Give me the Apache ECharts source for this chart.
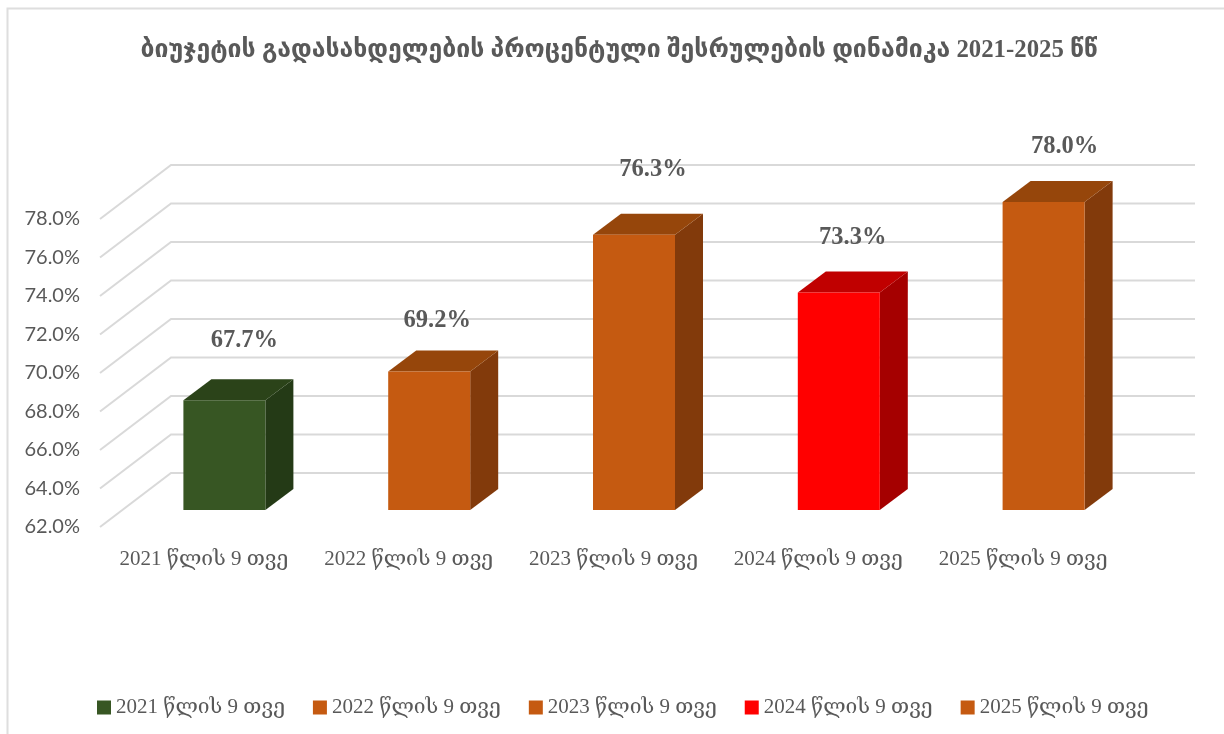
<!DOCTYPE html>
<html>
<head>
<meta charset="utf-8">
<title>chart</title>
<script src="https://cdn.jsdelivr.net/npm/echarts@6/dist/echarts.min.js"></script>
<style>
  html, body { margin: 0; padding: 0; background: #fff; }
  #chart { width: 1224px; height: 734px; }
</style>
</head>
<body>
<div id="chart"></div>
<script>
const titleText = "ბიუჯეტის გადასახდელების პროცენტული შესრულების დინამიკა 2021-2025 წწ";
const categories = ["2021 წლის 9 თვე", "2022 წლის 9 თვე", "2023 წლის 9 თვე", "2024 წლის 9 თვე", "2025 წლის 9 თვე"];
const values = [67.7, 69.2, 76.3, 73.3, 78.0];
const yTicks = [62, 64, 66, 68, 70, 72, 74, 76, 78];

// face, top, side
const barColors = [
  ["#375623", "#2b4319", "#243a16"],
  ["#c55a11", "#96460b", "#823a0b"],
  ["#c55a11", "#96460b", "#823a0b"],
  ["#ff0000", "#c00000", "#a50000"],
  ["#c55a11", "#96460b", "#823a0b"]
];

// excel style 3d: wall sits behind the front plane, bars in the middle
const wallDx = 71, wallDy = -54;
const barDx = 22, barDy = -17;
const depthDx = 28, depthDy = -21;
const barWidth = 82;
// hand placed data labels in the original
const labelNudge = [[20, -60], [8, -51], [19, -65], [14, -55], [21, -55]];

const serifFont = "'Liberation Serif','DejaVu Serif',serif";
const sansFont = "Lato,'DejaVu Sans',sans-serif";

function renderGrid(params, api) {
  const cs = params.coordSys;
  const y = api.coord([0, api.value(0)])[1];
  return {
    type: "polyline",
    shape: { points: [[cs.x, y], [cs.x + wallDx, y + wallDy], [cs.x + cs.width + wallDx, y + wallDy]] },
    style: { fill: null, stroke: "#d9d9d9", lineWidth: 2 },
    silent: true
  };
}

function renderBar(i) {
  return function (params, api) {
    const top = api.coord([i, api.value(1)]);
    const base = api.coord([i, yTicks[0]]);
    const xl = top[0] - barWidth / 2 + barDx;
    const xr = xl + barWidth;
    const yt = top[1] + barDy;
    const yb = base[1] + barDy;
    const c = barColors[i];
    return {
      type: "group",
      children: [
        { type: "polygon", shape: { points: [[xr, yt], [xr + depthDx, yt + depthDy], [xr + depthDx, yb + depthDy], [xr, yb]] }, style: { fill: c[2] } },
        { type: "polygon", shape: { points: [[xl, yt], [xl + depthDx, yt + depthDy], [xr + depthDx, yt + depthDy], [xr, yt]] }, style: { fill: c[1] } },
        { type: "rect", shape: { x: xl, y: yt, width: barWidth, height: yb - yt }, style: { fill: c[0] } },
        {
          type: "text",
          x: top[0] + barDx + labelNudge[i][0],
          y: yt + labelNudge[i][1],
          style: {
            text: api.value(1).toFixed(1) + "%",
            align: "center",
            verticalAlign: "middle",
            fontFamily: "'Liberation Serif',serif",
            fontWeight: "bold",
            fontSize: 24.5,
            fill: "#595959"
          }
        }
      ]
    };
  };
}

const series = [{
  type: "custom",
  name: "grid",
  coordinateSystem: "cartesian2d",
  renderItem: renderGrid,
  encode: { y: 0 },
  data: yTicks.map(function (t) { return [t]; }),
  z: 1
}];
categories.forEach(function (name, i) {
  series.push({
    type: "custom",
    name: name,
    coordinateSystem: "cartesian2d",
    renderItem: renderBar(i),
    encode: { x: 0, y: 1 },
    data: [[i, values[i]]],
    itemStyle: { color: barColors[i][0] },
    z: 2
  });
});

const myChart = echarts.init(document.getElementById("chart"), null, { renderer: "canvas" });
myChart.setOption({
  animation: false,
  backgroundColor: "#fff",
  title: {
    text: titleText,
    left: 614,
    top: 33,
    textAlign: "center",
    textStyle: { fontFamily: "'Liberation Serif','DejaVu Sans',sans-serif", fontSize: 24.8, fontWeight: "bold", color: "#595959" }
  },
  grid: { left: 100, top: 219, width: 1024, height: 308 },
  xAxis: {
    type: "category",
    data: categories,
    axisLine: { show: false },
    axisTick: { show: false },
    axisLabel: { interval: 0, color: "#595959", fontFamily: serifFont, fontSize: 21, margin: 22, padding: [0, 0, 0, 3] }
  },
  yAxis: {
    type: "value",
    min: 62,
    max: 78,
    interval: 2,
    axisLine: { show: false },
    axisTick: { show: false },
    splitLine: { show: false },
    axisLabel: {
      formatter: function (v) { return v.toFixed(1) + "%"; },
      color: "#595959",
      fontFamily: sansFont,
      fontSize: 20,
      margin: 20,
      padding: [2, 0, 0, 0]
    }
  },
  legend: {
    data: categories,
    left: 92,
    top: 692,
    icon: "rect",
    itemWidth: 14,
    itemHeight: 14,
    itemGap: 28,
    textStyle: { color: "#595959", fontFamily: serifFont, fontSize: 21 }
  },
  graphic: [{
    type: "polyline",
    shape: { points: [[7.5, 734], [7.5, 8.5], [1224, 8.5]] },
    style: { fill: null, stroke: "#dedede", lineWidth: 2 }
  }],
  series: series
});
</script>
</body>
</html>
